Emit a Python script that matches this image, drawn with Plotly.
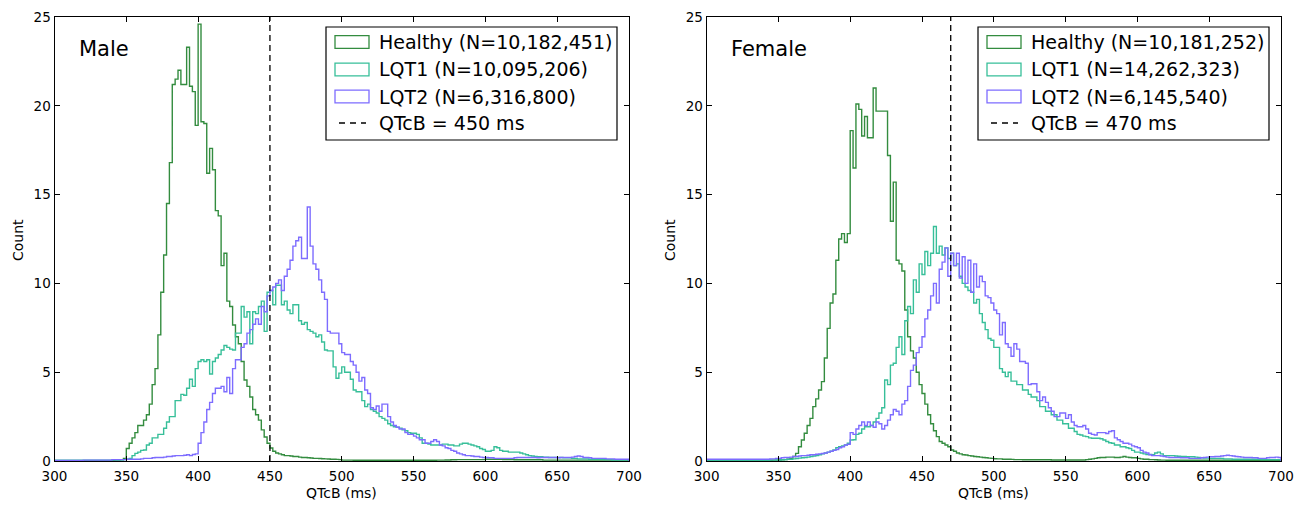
import numpy as np
import plotly.graph_objects as go

# ---------------- data (2 ms bins from 300 to 700 ms) ----------------
BIN_START = 300
BIN_WIDTH = 2
N_BINS = 200

male_healthy = [
    0.02, 0.02, 0.02, 0.02, 0.02, 0.02, 0.02, 0.02, 0.02, 0.02,
    0.02, 0.02, 0.02, 0.02, 0.02, 0.02, 0.02, 0.02, 0.02, 0.02,
    0.03, 0.05, 0.05, 0.08, 0.15, 0.7, 1.0, 1.3, 1.6, 2.0,
    2.0, 2.3, 2.6, 3.2, 4.3, 5.2, 7.1, 9.5, 11.6, 14.5,
    16.8, 21.2, 21.5, 22.0, 21.2, 21.2, 23.3, 21.1, 20.8, 18.9,
    24.6, 19.1, 19.0, 16.2, 17.6, 16.4, 14.1, 13.8, 11.0, 11.7,
    9.0, 8.7, 7.66, 7.0, 6.6, 5.6, 4.56, 4.2, 3.6, 2.9,
    2.6, 2.3, 1.75, 1.35, 1.0, 0.73, 0.55, 0.45, 0.4, 0.35,
    0.3, 0.3, 0.28, 0.25, 0.25, 0.22, 0.2, 0.2, 0.18, 0.17,
    0.15, 0.15, 0.14, 0.13, 0.12, 0.11, 0.1, 0.1, 0.09, 0.08,
    0.05, 0.05, 0.05, 0.05, 0.04, 0.04, 0.04, 0.04, 0.04, 0.04,
    0.04, 0.04, 0.04, 0.04, 0.04, 0.04, 0.04, 0.04, 0.04, 0.04,
    0.04, 0.04, 0.04, 0.04, 0.04, 0.04, 0.04, 0.04, 0.04, 0.04,
    0.04, 0.04, 0.04, 0.05, 0.05, 0.05, 0.06, 0.06, 0.07, 0.07,
    0.08, 0.08, 0.08, 0.08, 0.08, 0.08, 0.08, 0.08, 0.08, 0.08,
    0.1, 0.1, 0.1, 0.1, 0.09, 0.09, 0.08, 0.08, 0.08, 0.08,
    0.07, 0.07, 0.07, 0.07, 0.07, 0.07, 0.07, 0.07, 0.07, 0.07,
    0.05, 0.05, 0.05, 0.05, 0.05, 0.05, 0.05, 0.05, 0.05, 0.05,
    0.05, 0.05, 0.05, 0.05, 0.05, 0.05, 0.05, 0.05, 0.05, 0.05,
    0.05, 0.05, 0.05, 0.05, 0.05, 0.05, 0.05, 0.05, 0.05, 0.05,
]

male_lqt1 = [
    0.05, 0.05, 0.05, 0.05, 0.05, 0.05, 0.05, 0.05, 0.05, 0.05,
    0.05, 0.05, 0.05, 0.05, 0.05, 0.05, 0.05, 0.05, 0.05, 0.05,
    0.05, 0.05, 0.05, 0.06, 0.08, 0.1, 0.15, 0.3, 0.43, 0.5,
    0.6, 0.62, 0.9, 1.0, 1.3, 1.3, 1.5, 1.5, 1.84, 2.2,
    2.5, 2.5, 3.4, 3.4, 3.75, 3.7, 4.1, 4.6, 4.2, 5.2,
    5.6, 5.7, 5.6, 5.7, 4.9, 5.6, 5.8, 6.0, 6.25, 6.5,
    6.4, 6.3, 6.25, 7.2, 7.2, 8.7, 8.1, 8.4, 6.6, 8.4,
    8.3, 8.7, 9.0, 7.3, 9.5, 9.6, 8.8, 9.9, 9.9, 8.8,
    9.0, 8.5, 8.3, 8.8, 8.8, 7.9, 7.7, 7.8, 7.4, 7.3,
    7.2, 7.0, 7.1, 6.7, 6.25, 6.2, 6.2, 5.3, 4.66, 4.95,
    5.3, 5.0, 5.0, 4.6, 4.0, 3.9, 3.9, 3.4, 3.06, 3.2,
    2.9, 2.8, 2.7, 2.5, 2.4, 2.3, 2.1, 2.0, 1.93, 1.9,
    1.85, 1.75, 1.7, 1.6, 1.56, 1.56, 1.5, 1.3, 1.0, 1.0,
    0.95, 0.9, 0.9, 0.9, 0.9, 0.95, 0.95, 0.9, 0.9, 0.85,
    0.85, 0.95, 1.0, 1.0, 0.95, 0.9, 0.85, 0.8, 0.7, 0.65,
    0.55, 0.55, 0.6, 0.8, 0.75, 0.6, 0.55, 0.55, 0.5, 0.5,
    0.5, 0.5, 0.45, 0.4, 0.35, 0.3, 0.28, 0.25, 0.24, 0.24,
    0.22, 0.22, 0.2, 0.2, 0.2, 0.2, 0.2, 0.18, 0.18, 0.18,
    0.15, 0.15, 0.12, 0.12, 0.12, 0.12, 0.1, 0.1, 0.1, 0.1,
    0.1, 0.08, 0.08, 0.08, 0.06, 0.06, 0.06, 0.05, 0.05, 0.05,
]

male_lqt2 = [
    0.03, 0.03, 0.03, 0.03, 0.03, 0.03, 0.03, 0.03, 0.03, 0.03,
    0.05, 0.05, 0.05, 0.05, 0.05, 0.05, 0.05, 0.05, 0.05, 0.05,
    0.08, 0.08, 0.08, 0.08, 0.08, 0.1, 0.1, 0.1, 0.1, 0.1,
    0.12, 0.15, 0.15, 0.15, 0.18, 0.2, 0.2, 0.2, 0.22, 0.25,
    0.25, 0.28, 0.3, 0.3, 0.3, 0.32, 0.35, 0.3, 0.37, 0.4,
    1.0, 1.6, 2.2, 2.9, 3.3, 3.8, 4.1, 4.1, 4.2, 3.9,
    4.7, 3.8, 5.2, 5.7, 5.7, 6.4, 6.6, 7.2, 7.4, 7.7,
    8.0, 7.7, 8.7, 8.4, 9.3, 9.6, 9.8, 10.0, 10.2, 9.6,
    10.4, 10.8, 11.3, 12.1, 12.4, 12.6, 11.4, 11.4, 14.3, 12.1,
    11.1, 10.8, 10.2, 9.5, 9.1, 7.3, 7.2, 7.2, 7.2, 6.6,
    6.1, 6.0, 6.0, 5.6, 5.4, 5.0, 4.5, 4.7, 4.0, 3.8,
    3.0, 2.9, 3.1, 2.8, 3.2, 3.2, 2.5, 2.2, 2.0, 1.9,
    1.8, 1.8, 1.6, 1.5, 1.5, 1.4, 1.3, 1.2, 1.2, 1.0,
    1.0, 1.1, 1.2, 1.1, 0.9, 0.85, 0.75, 0.7, 0.6, 0.55,
    0.45, 0.4, 0.35, 0.3, 0.3, 0.28, 0.25, 0.25, 0.22, 0.2,
    0.2, 0.18, 0.18, 0.15, 0.15, 0.15, 0.15, 0.15, 0.15, 0.15,
    0.18, 0.2, 0.2, 0.2, 0.2, 0.2, 0.2, 0.2, 0.18, 0.2,
    0.2, 0.2, 0.2, 0.2, 0.2, 0.18, 0.2, 0.2, 0.2, 0.2,
    0.22, 0.25, 0.28, 0.25, 0.2, 0.2, 0.18, 0.15, 0.15, 0.15,
    0.15, 0.15, 0.12, 0.12, 0.12, 0.1, 0.1, 0.1, 0.1, 0.1,
]

female_healthy = [
    0.02, 0.02, 0.02, 0.02, 0.02, 0.02, 0.02, 0.02, 0.02, 0.02,
    0.02, 0.02, 0.02, 0.02, 0.02, 0.02, 0.02, 0.02, 0.02, 0.02,
    0.03, 0.03, 0.04, 0.05, 0.05, 0.06, 0.07, 0.08, 0.1, 0.15,
    0.25, 0.43, 0.8, 1.18, 1.56, 2.0, 2.4, 3.06, 3.5, 4.0,
    4.47, 5.8, 7.47, 8.9, 9.4, 11.3, 12.5, 12.8, 12.3, 12.8,
    18.6, 16.5, 20.1, 19.8, 18.3, 19.4, 18.2, 18.2, 21.0, 19.7,
    19.7, 19.7, 19.7, 17.2, 13.5, 15.7, 11.3, 11.1, 10.7, 8.5,
    7.0, 6.2, 5.8, 5.0, 4.3, 3.8, 3.2, 2.6, 2.1, 1.7,
    1.37, 1.1, 1.0, 0.9, 0.8, 0.62, 0.55, 0.45, 0.4, 0.35,
    0.34, 0.3, 0.28, 0.25, 0.24, 0.22, 0.2, 0.18, 0.16, 0.15,
    0.13, 0.12, 0.12, 0.1, 0.1, 0.1, 0.09, 0.08, 0.08, 0.08,
    0.07, 0.07, 0.07, 0.07, 0.07, 0.07, 0.07, 0.07, 0.07, 0.07,
    0.06, 0.06, 0.06, 0.06, 0.06, 0.06, 0.06, 0.06, 0.06, 0.06,
    0.06, 0.06, 0.08, 0.1, 0.12, 0.15, 0.18, 0.2, 0.2, 0.22,
    0.22, 0.22, 0.2, 0.2, 0.22, 0.25, 0.22, 0.2, 0.18, 0.18,
    0.15, 0.12, 0.1, 0.1, 0.08, 0.08, 0.07, 0.06, 0.05, 0.05,
    0.04, 0.04, 0.04, 0.04, 0.04, 0.04, 0.04, 0.04, 0.04, 0.04,
    0.04, 0.04, 0.04, 0.04, 0.04, 0.04, 0.04, 0.04, 0.04, 0.04,
    0.04, 0.04, 0.04, 0.04, 0.04, 0.04, 0.04, 0.04, 0.04, 0.04,
    0.04, 0.04, 0.04, 0.04, 0.04, 0.04, 0.04, 0.04, 0.04, 0.04,
]

female_lqt1 = [
    0.04, 0.04, 0.04, 0.04, 0.04, 0.04, 0.04, 0.04, 0.04, 0.04,
    0.04, 0.04, 0.04, 0.04, 0.04, 0.04, 0.04, 0.04, 0.04, 0.04,
    0.04, 0.04, 0.05, 0.05, 0.06, 0.06, 0.07, 0.08, 0.1, 0.1,
    0.12, 0.14, 0.16, 0.18, 0.2, 0.22, 0.25, 0.28, 0.3, 0.35,
    0.4, 0.45, 0.5, 0.55, 0.62, 0.75, 0.8, 0.85, 0.9, 1.0,
    1.18, 1.2, 1.5, 1.56, 1.8, 1.93, 1.93, 2.0, 2.2, 2.4,
    2.7, 3.0, 4.56, 4.3, 5.4, 5.5, 6.4, 7.0, 6.0, 7.9,
    8.7, 8.3, 10.2, 9.5, 11.1, 10.5, 11.8, 11.0, 11.7, 13.2,
    11.7, 12.1, 11.6, 12.0, 11.4, 11.7, 11.0, 11.1, 10.4, 10.0,
    9.8, 9.6, 9.5, 8.9, 9.1, 8.3, 7.8, 7.4, 6.9, 6.8,
    6.4, 6.4, 5.2, 5.0, 4.75, 5.0, 4.5, 4.5, 4.3, 4.3,
    4.0, 4.0, 3.75, 3.6, 3.6, 3.4, 3.06, 3.06, 2.8, 2.8,
    2.6, 2.6, 2.3, 2.3, 2.1, 2.1, 1.84, 1.84, 1.66, 1.5,
    1.46, 1.4, 1.37, 1.3, 1.28, 1.28, 1.28, 1.25, 1.18, 1.1,
    1.03, 1.0, 0.9, 0.9, 0.8, 0.8, 0.75, 0.7, 0.6, 0.5,
    0.5, 0.45, 0.4, 0.37, 0.37, 0.35, 0.45, 0.5, 0.4, 0.3,
    0.3, 0.3, 0.3, 0.28, 0.27, 0.26, 0.25, 0.24, 0.24, 0.24,
    0.22, 0.2, 0.18, 0.17, 0.16, 0.15, 0.15, 0.15, 0.15, 0.15,
    0.12, 0.12, 0.12, 0.1, 0.1, 0.1, 0.1, 0.1, 0.1, 0.1,
    0.1, 0.1, 0.1, 0.08, 0.08, 0.08, 0.08, 0.08, 0.08, 0.08,
]

female_lqt2 = [
    0.1, 0.1, 0.1, 0.1, 0.1, 0.1, 0.1, 0.1, 0.1, 0.1,
    0.1, 0.1, 0.1, 0.1, 0.1, 0.1, 0.1, 0.1, 0.1, 0.1,
    0.1, 0.1, 0.12, 0.12, 0.15, 0.15, 0.18, 0.2, 0.2, 0.22,
    0.25, 0.25, 0.28, 0.3, 0.3, 0.32, 0.35, 0.35, 0.38, 0.4,
    0.42, 0.45, 0.5, 0.55, 0.6, 0.65, 0.75, 0.8, 0.9, 0.94,
    1.6, 1.5, 1.8, 2.0, 2.2, 2.0, 2.2, 2.0, 1.9, 2.2,
    2.1, 1.8, 2.0, 2.3, 2.6, 2.9, 2.8, 2.6, 3.2, 3.4,
    4.2, 5.1, 5.4, 6.1, 6.4, 7.0, 8.0, 8.5, 9.3, 10.0,
    8.9, 10.8, 11.2, 12.0, 10.4, 11.7, 11.0, 11.7, 10.3, 11.5,
    10.0, 11.3, 9.5, 11.1, 9.8, 10.4, 10.1, 9.3, 9.2, 8.9,
    8.5, 8.3, 7.1, 7.8, 6.6, 6.4, 5.9, 6.6, 6.3, 5.6,
    5.6, 5.5, 4.3, 4.35, 4.35, 3.9, 3.4, 3.6, 3.3, 3.0,
    2.8, 2.5, 2.5, 2.7, 2.7, 2.4, 2.6, 2.2, 2.0, 1.93,
    1.93, 2.0, 1.8, 1.56, 1.5, 1.46, 1.6, 1.6, 1.6, 1.55,
    1.66, 1.7, 1.3, 1.2, 1.1, 1.0, 1.0, 0.95, 0.85, 0.8,
    0.75, 0.6, 0.5, 0.45, 0.35, 0.3, 0.3, 0.3, 0.28, 0.25,
    0.22, 0.2, 0.2, 0.2, 0.2, 0.18, 0.18, 0.18, 0.15, 0.15,
    0.15, 0.15, 0.18, 0.2, 0.22, 0.24, 0.24, 0.25, 0.25, 0.28,
    0.3, 0.32, 0.3, 0.28, 0.25, 0.24, 0.22, 0.2, 0.2, 0.2,
    0.18, 0.18, 0.15, 0.15, 0.15, 0.18, 0.2, 0.2, 0.22, 0.2,
]

series_keys = ["Healthy", "LQT1", "LQT2"]
male_labels = ["Healthy (N=10,182,451)", "LQT1 (N=10,095,206)", "LQT2 (N=6,316,800)"]
female_labels = ["Healthy (N=10,181,252)", "LQT1 (N=14,262,323)", "LQT2 (N=6,145,540)"]
male_threshold = 450
female_threshold = 470
panel_titles = ["Male", "Female"]

x_ticks = [300, 350, 400, 450, 500, 550, 600, 650, 700]
y_ticks = [0, 5, 10, 15, 20, 25]

# ---------------- style ----------------
COLORS = {"Healthy": "#338c3f", "LQT1": "#37bf99", "LQT2": "#7d6cff"}
FONT = "DejaVu Sans, Verdana, sans-serif"
W, H = 1313, 506

edges = BIN_START + BIN_WIDTH * np.arange(N_BINS + 1)


def step_xy(values):
    xs = [edges[0]] + list(edges[:-1]) + [edges[-1]]
    ys = [0] + list(values) + [0]
    return xs, ys


panels = [
    {"data": [male_healthy, male_lqt1, male_lqt2], "labels": male_labels,
     "thr": male_threshold, "title": panel_titles[0], "xa": "x", "ya": "y",
     "dom": [54.5 / W, 629 / W], "px0": 0},
    {"data": [female_healthy, female_lqt1, female_lqt2], "labels": female_labels,
     "thr": female_threshold, "title": panel_titles[1], "xa": "x2", "ya": "y2",
     "dom": [706.6 / W, 1281 / W], "px0": 652},
]

fig = go.Figure()
shapes = []
annotations = []


def px(x):
    return x / W


def py(y):
    return 1 - y / H


for p in panels:
    for key, vals, lab in zip(series_keys, p["data"], p["labels"]):
        xs, ys = step_xy(vals)
        fig.add_trace(go.Scatter(
            x=xs, y=ys, mode="lines", line=dict(color=COLORS[key], width=1.4, shape="hv"),
            name=lab, showlegend=False, xaxis=p["xa"], yaxis=p["ya"], hoverinfo="skip"))
    # threshold
    shapes.append(dict(type="line", xref=p["xa"], yref=p["ya"] + " domain",
                       x0=p["thr"], x1=p["thr"], y0=0, y1=1,
                       line=dict(color="black", width=1.3, dash="6px,4px")))
    # panel title
    annotations.append(dict(text=p["title"], xref="paper", yref="paper",
                            x=px(77 + p["px0"]), y=py(49), xanchor="left", yanchor="middle",
                            showarrow=False, font=dict(family=FONT, size=21, color="black")))
    # legend box
    o = p["px0"]
    shapes.append(dict(type="rect", xref="paper", yref="paper",
                       x0=px(326 + o), x1=px(617 + o), y0=py(27), y1=py(140),
                       line=dict(color="black", width=1.2), fillcolor="white", layer="above"))
    row_y = [42, 69.5, 96.5, 123]
    for i, key in enumerate(series_keys):
        shapes.append(dict(type="rect", xref="paper", yref="paper",
                           x0=px(335 + o), x1=px(369 + o), y0=py(row_y[i] - 6.3), y1=py(row_y[i] + 6.3),
                           line=dict(color=COLORS[key], width=1.3), fillcolor="rgba(0,0,0,0)",
                           layer="above"))
        annotations.append(dict(text=p["labels"][i], xref="paper", yref="paper",
                                x=px(377 + o), y=py(row_y[i]), xanchor="left", yanchor="middle",
                                showarrow=False, font=dict(family=FONT, size=19, color="black")))
    shapes.append(dict(type="line", xref="paper", yref="paper",
                       x0=px(339 + o), x1=px(366 + o), y0=py(row_y[3]), y1=py(row_y[3]),
                       line=dict(color="black", width=1.3, dash="6px,5px"), layer="above"))
    annotations.append(dict(text=f"QTcB = {p['thr']} ms", xref="paper", yref="paper",
                            x=px(377 + o), y=py(row_y[3]), xanchor="left", yanchor="middle",
                            showarrow=False, font=dict(family=FONT, size=19, color="black")))
    # axis titles
    annotations.append(dict(text="QTcB (ms)", xref="paper", yref="paper",
                            x=(p["dom"][0] + p["dom"][1]) / 2, y=py(493),
                            xanchor="center", yanchor="middle", showarrow=False,
                            font=dict(family=FONT, size=14, color="black")))
    annotations.append(dict(text="Count", xref="paper", yref="paper",
                            x=px(18 + o), y=py(240), xanchor="center", yanchor="middle",
                            textangle=-90, showarrow=False,
                            font=dict(family=FONT, size=14, color="black")))

axis_common = dict(showline=True, linecolor="black", linewidth=1, mirror="ticks",
                   ticks="inside", ticklen=5, tickwidth=1, tickcolor="black",
                   showgrid=False, zeroline=False, automargin=False,
                   tickfont=dict(family=FONT, size=13.5, color="black"))

ydom = [1 - 461 / H, 1 - 17 / H]
fig.update_layout(
    width=W, height=H,
    margin=dict(l=0, r=0, t=0, b=0),
    paper_bgcolor="white", plot_bgcolor="white",
    showlegend=False,
    xaxis=dict(domain=panels[0]["dom"], range=[300, 700], tickvals=x_ticks, anchor="y",
               ticklabelstandoff=3, **axis_common),
    yaxis=dict(domain=ydom, range=[0, 25], tickvals=y_ticks, anchor="x", **axis_common),
    xaxis2=dict(domain=panels[1]["dom"], range=[300, 700], tickvals=x_ticks, anchor="y2",
                ticklabelstandoff=3, **axis_common),
    yaxis2=dict(domain=ydom, range=[0, 25], tickvals=y_ticks, anchor="x2", **axis_common),
    shapes=shapes,
    annotations=annotations,
)

fig.write_html("out.html", config={"displayModeBar": False},
               post_script="document.body.style.margin='0';document.body.style.overflow='hidden';")
